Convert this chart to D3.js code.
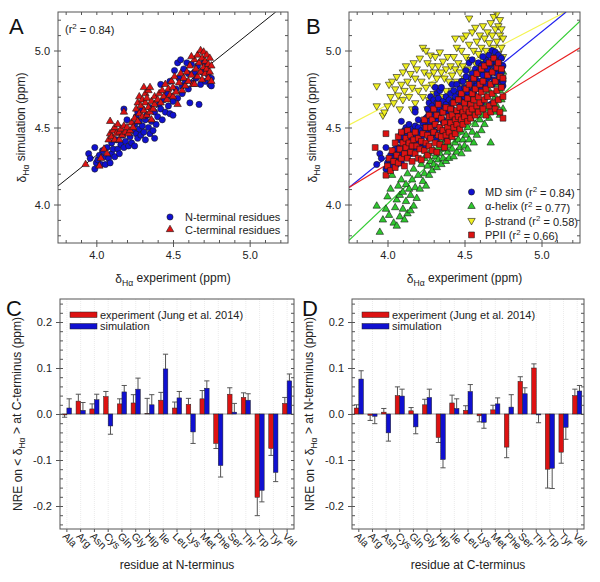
<!DOCTYPE html>
<html><head><meta charset="utf-8">
<script src="https://cdn.jsdelivr.net/npm/d3@7/dist/d3.min.js"></script>
<style>body{margin:0;background:#fff}svg{display:block;font-family:"Liberation Sans",Arial,sans-serif}</style>
</head><body><svg id="c" width="600" height="582"></svg>
<script>
// ---------- DATA ----------
const categories = ["Ala","Arg","Asn","Cys","Gln","Gly","Hip","Ile","Leu","Lys","Met","Phe","Ser","Thr","Trp","Tyr","Val"];
const expC    = [-0.002,0.028,0.011,0.038,0.022,0.024,0.001,0.030,0.013,0.021,0.033,-0.064,0.043,0.036,-0.181,-0.075,0.023];
const expCErr = [0.005,0.015,0.011,0.011,0.011,0.018,0.033,0.017,0.013,0.013,0.018,0.011,0.014,0.010,0.040,0.015,0.013];
const simC    = [0.013,0.008,0.031,-0.026,0.048,0.054,0.020,0.098,0.035,-0.039,0.056,-0.112,0.004,0.030,-0.166,-0.127,0.072];
const simCErr = [0.020,0.017,0.012,0.018,0.014,0.024,0.022,0.032,0.014,0.025,0.016,0.025,0.019,0.014,0.025,0.020,0.015];
const expD    = [0.013,-0.003,0.004,0.040,0.007,0.020,-0.051,0.024,0.008,-0.004,0.009,-0.072,0.071,0.100,-0.120,-0.083,0.040];
const expDErr = [0.007,0.011,0.008,0.019,0.007,0.012,0.011,0.017,0.010,0.013,0.010,0.023,0.010,0.009,0.041,0.024,0.014];
const simD    = [0.076,-0.005,-0.041,0.039,-0.028,0.036,-0.099,0.012,0.049,-0.018,0.022,0.015,0.044,-0.002,-0.118,-0.029,0.050];
const simDErr = [0.018,0.016,0.018,0.015,0.015,0.018,0.018,0.021,0.015,0.013,0.013,0.027,0.013,0.017,0.044,0.026,0.012];
const barTicks = [-0.2,-0.1,0.0,0.1,0.2];
const scatterTicks = [4.0,4.5,5.0];

// Panel A: N-terminal residues (blue circles) [experiment, simulation]
const nTerm = [[3.95,4.33],[3.96,4.30],[3.99,4.37],[3.99,4.23],[4.00,4.27],[4.01,4.29],[4.02,4.32],[4.03,4.26],[4.04,4.35],[4.05,4.31],[4.06,4.26],[4.07,4.37],[4.08,4.30],[4.09,4.27],[4.10,4.33],[4.10,4.40],[4.11,4.36],[4.12,4.31],[4.13,4.42],[4.14,4.36],[4.15,4.33],[4.16,4.39],[4.17,4.45],[4.18,4.62],[4.18,4.37],[4.19,4.41],[4.20,4.55],[4.21,4.38],[4.22,4.44],[4.23,4.40],
[4.24,4.48],[4.25,4.38],[4.25,4.52],[4.26,4.46],[4.26,4.57],[4.27,4.43],[4.27,4.60],[4.28,4.49],[4.28,4.54],[4.29,4.45],[4.30,4.51],[4.30,4.62],[4.31,4.47],[4.32,4.55],[4.32,4.42],[4.33,4.58],[4.34,4.50],[4.35,4.63],[4.35,4.46],[4.36,4.54],[4.37,4.48],[4.38,4.60],[4.38,4.43],[4.39,4.52],[4.40,4.57],[4.41,4.65],[4.42,4.62],[4.42,4.78],[4.43,4.55],[4.44,4.68],[4.45,4.60],
[4.46,4.72],[4.47,4.64],[4.48,4.80],[4.48,4.59],[4.49,4.70],[4.50,4.67],[4.50,4.58],[4.51,4.87],[4.52,4.75],[4.53,4.92],[4.53,4.69],[4.54,4.82],[4.55,4.94],[4.56,4.77],[4.56,4.72],[4.57,4.88],[4.58,4.80],[4.59,4.92],[4.60,4.75],[4.60,4.85],[4.61,4.66],[4.62,4.91],[4.63,4.79],[4.64,4.86],[4.65,4.82],[4.66,4.90],[4.67,4.65],[4.68,4.78],[4.69,4.86],[4.70,4.92],[4.71,4.80],[4.72,4.88],[4.73,4.84],[4.74,4.78],[4.75,4.82],[4.75,4.77]];
// Panel A: C-terminal residues (red triangles)
const cTerm = [[3.93,4.26],[4.02,4.25],[4.03,4.30],[4.05,4.36],[4.07,4.33],[4.08,4.42],[4.09,4.54],[4.09,4.46],[4.10,4.44],[4.11,4.48],[4.12,4.42],[4.12,4.50],[4.13,4.46],[4.14,4.52],[4.15,4.47],[4.15,4.42],[4.16,4.49],[4.17,4.45],[4.18,4.51],[4.18,4.60],[4.19,4.47],[4.20,4.50],[4.21,4.46],[4.22,4.48],[4.23,4.53],[4.24,4.50],[4.25,4.56],[4.26,4.62],[4.27,4.54],[4.27,4.66],[4.28,4.59],[4.28,4.70],[4.29,4.64],[4.30,4.57],[4.30,4.68],[4.31,4.76],[4.31,4.61],[4.32,4.72],[4.32,4.66],[4.33,4.58],[4.33,4.69],[4.34,4.63],[4.34,4.74],[4.35,4.76],[4.35,4.60],[4.36,4.67],[4.36,4.55],[4.37,4.62],[4.38,4.70],[4.38,4.65],[4.40,4.68],[4.41,4.72],[4.42,4.66],[4.43,4.74],[4.44,4.70],[4.45,4.78],[4.46,4.68],[4.47,4.75],[4.48,4.71],[4.49,4.80],[4.50,4.76],[4.50,4.70],[4.51,4.83],[4.52,4.73],[4.53,4.65],[4.54,4.79],[4.55,4.85],[4.56,4.74],[4.57,4.82],[4.58,4.77],[4.59,4.86],[4.60,4.80],[4.61,4.90],[4.62,4.84],[4.63,4.78],[4.64,4.94],[4.65,4.88],[4.66,4.97],[4.66,4.83],[4.67,4.92],[4.68,5.00],[4.68,4.86],[4.69,4.95],[4.69,4.81],[4.70,4.99],[4.70,4.89],[4.71,4.93],[4.71,4.85],[4.72,4.97],[4.72,4.88],[4.73,4.91],[4.73,4.82],[4.74,4.95],[4.74,4.86],[4.75,4.90],[4.75,4.80],[4.64,4.78],[4.62,4.96]];
// Panel B: alpha-helix (green)
const helix = [[3.93,3.99],[3.95,3.82],[3.97,3.90],[3.99,3.97],[4.00,4.05],[4.01,3.93],[4.02,4.10],[4.03,4.19],[4.04,3.88],[4.05,3.98],[4.06,4.03],[4.06,3.86],[4.07,4.12],[4.08,3.92],[4.08,4.06],[4.09,4.16],[4.10,3.97],[4.10,4.08],[4.11,3.90],[4.12,4.13],[4.12,4.02],[4.13,3.94],[4.13,4.20],[4.14,4.10],[4.15,3.96],[4.15,4.06],[4.16,4.16],[4.17,3.99],[4.17,4.23],[4.18,4.11],[4.19,4.04],[4.20,4.19],[4.21,4.10],[4.22,4.26],[4.23,4.15],[4.24,4.30],[4.24,4.20],[4.25,4.12],[4.26,4.25],[4.27,4.33],[4.27,4.19],[4.28,4.28],[4.29,4.22],[4.30,4.35],[4.30,4.26],[4.31,4.31],[4.32,4.24],[4.33,4.37],[4.33,4.29],[4.34,4.33],[4.35,4.26],[4.35,4.40],[4.36,4.30],[4.37,4.36],[4.38,4.28],[4.38,4.42],[4.39,4.34],[4.40,4.38],[4.40,4.30],[4.41,4.44],[4.42,4.36],[4.43,4.31],[4.43,4.46],[4.44,4.40],[4.45,4.34],[4.45,4.50],[4.46,4.42],[4.47,4.37],[4.48,4.47],[4.48,4.33],[4.49,4.42],[4.50,4.38],[4.50,4.54],[4.51,4.45],[4.52,4.36],[4.52,4.50],[4.53,4.42],[4.54,4.56],[4.55,4.47],[4.56,4.40],[4.56,4.60],[4.57,4.52],[4.58,4.45],[4.59,4.62],[4.60,4.55],[4.61,4.48],[4.62,4.66],[4.62,4.58],[4.63,4.52],[4.64,4.70],[4.65,4.62],[4.66,4.56],[4.66,4.74],[4.67,4.40],[4.68,4.66],[4.69,4.60],[4.70,4.78],[4.70,4.70],[4.71,4.64],[4.72,4.82],[4.73,4.74],[4.73,4.58],[4.74,4.68],[4.75,4.86],[4.75,4.62]];
// Panel B: beta-strand (yellow)
const strand = [[3.93,4.77],[3.93,4.64],[3.97,4.58],[3.98,4.60],[4.00,4.64],[4.01,4.78],[4.02,4.70],[4.03,4.80],[4.04,4.66],[4.05,4.75],[4.06,4.83],[4.07,4.71],[4.08,4.62],[4.09,4.78],[4.10,4.86],[4.10,4.68],[4.11,4.74],[4.12,4.90],[4.13,4.80],[4.14,4.70],[4.15,4.85],[4.16,4.76],[4.16,4.62],[4.17,4.92],[4.18,4.66],[4.18,4.82],[4.19,4.88],[4.20,4.74],[4.21,4.95],[4.22,4.80],[4.23,4.70],[4.23,5.02],[4.24,4.86],[4.25,5.00],[4.25,4.76],[4.26,4.92],[4.26,4.62],[4.27,4.68],[4.27,4.84],[4.28,4.97],[4.29,4.78],[4.29,4.90],[4.30,4.72],[4.30,4.86],[4.31,4.96],[4.32,4.82],[4.32,4.66],[4.33,4.90],[4.34,4.76],[4.34,4.99],[4.35,4.86],[4.36,4.70],[4.36,4.93],[4.37,4.82],[4.38,4.88],[4.38,4.74],[4.39,4.96],[4.40,4.80],[4.40,4.68],[4.41,4.90],[4.42,4.84],[4.42,4.74],[4.43,4.96],[4.44,4.88],[4.44,5.08],[4.45,4.80],[4.45,5.02],[4.46,4.92],[4.47,4.86],[4.47,4.76],[4.48,5.00],[4.49,4.90],[4.49,5.08],[4.50,4.82],[4.51,4.96],[4.51,5.10],[4.52,4.88],[4.53,5.04],[4.53,4.80],[4.53,5.21],[4.54,4.94],[4.55,5.12],[4.55,4.86],[4.56,5.00],[4.57,4.92],[4.57,5.15],[4.58,4.84],[4.58,5.06],[4.59,4.98],[4.60,5.10],[4.60,4.90],[4.61,5.02],[4.62,4.94],[4.62,5.16],[4.63,4.88],[4.63,5.08],[4.64,5.00],[4.65,5.12],[4.65,4.92],[4.66,5.05],[4.67,5.18],[4.67,4.96],[4.68,5.10],[4.68,4.90],[4.69,5.22],[4.69,5.02],[4.70,5.14],[4.70,4.95],[4.71,5.24],[4.71,5.06],[4.72,5.16],[4.72,4.98],[4.73,5.10],[4.73,5.20],[4.74,5.02],[4.74,5.14],[4.75,5.08],[4.75,4.96]];
// Panel B: PPII (red squares)
const ppii = [[3.92,4.37],[3.99,4.46],[3.99,4.19],[4.00,4.25],[4.01,4.30],[4.02,4.22],[4.03,4.35],[4.04,4.28],[4.05,4.40],[4.05,4.24],[4.06,4.32],[4.07,4.44],[4.07,4.27],[4.08,4.36],[4.09,4.30],[4.09,4.47],[4.10,4.40],[4.11,4.33],[4.11,4.25],[4.12,4.43],[4.12,4.37],[4.13,4.30],[4.13,4.48],[4.14,4.40],[4.15,4.34],[4.15,4.45],[4.16,4.28],[4.16,4.38],[4.17,4.42],[4.18,4.33],[4.18,4.47],[4.19,4.38],[4.20,4.30],[4.20,4.43],[4.21,4.36],[4.22,4.41],[4.22,4.29],
[4.23,4.46],[4.24,4.35],[4.24,4.55],[4.25,4.40],[4.25,4.50],[4.26,4.32],[4.26,4.45],[4.27,4.58],[4.27,4.38],[4.28,4.50],[4.28,4.43],[4.29,4.35],[4.29,4.55],[4.30,4.47],[4.30,4.62],[4.31,4.40],[4.31,4.52],[4.32,4.34],[4.32,4.58],[4.33,4.45],[4.33,4.65],[4.34,4.50],[4.34,4.39],[4.35,4.56],[4.35,4.44],[4.36,4.60],[4.36,4.48],[4.37,4.37],[4.37,4.53],[4.38,4.45],[4.38,4.63],[4.39,4.50],[4.39,4.41],[4.40,4.57],[4.40,4.47],[4.41,4.62],[4.41,4.53],[4.42,4.44],[4.42,4.58],[4.43,4.50],[4.43,4.66],[4.44,4.55],[4.44,4.46],[4.45,4.61],[4.45,4.52],
[4.46,4.68],[4.46,4.57],[4.47,4.49],[4.47,4.63],[4.48,4.55],[4.48,4.72],[4.49,4.60],[4.49,4.52],[4.50,4.66],[4.50,4.57],[4.51,4.75],[4.51,4.62],[4.52,4.54],[4.52,4.69],[4.53,4.60],[4.53,4.78],[4.54,4.65],[4.54,4.56],[4.55,4.72],[4.55,4.62],[4.56,4.82],[4.56,4.68],[4.57,4.58],[4.57,4.75],[4.58,4.64],[4.58,4.85],[4.59,4.70],[4.59,4.60],[4.60,4.78],[4.60,4.66],[4.61,4.88],[4.61,4.73],[4.62,4.62],[4.62,4.80],[4.63,4.68],[4.63,4.90],[4.64,4.75],[4.64,4.58],[4.65,4.84],[4.65,4.70],[4.66,4.64],[4.66,4.92],[4.67,4.78],[4.67,4.60],[4.68,4.86],[4.68,4.72],[4.69,4.66],[4.69,4.95],[4.70,4.80],[4.70,4.62],[4.71,4.89],[4.71,4.74],[4.72,4.68],[4.72,4.92],[4.73,4.83],[4.73,4.60],[4.74,4.76],[4.74,4.88],[4.75,4.70],[4.75,4.56],[4.75,4.82]];
// Regression lines [x0,y0,x1,y1]
const lineA = [3.75,4.12,5.17,5.25];
const linesB = [
  {name:"strand", c:"#f4f450", pts:[3.75,4.517,5.155,5.25]},
  {name:"md",     c:"#2020ee", pts:[3.75,4.11,5.16,5.25]},
  {name:"helix",  c:"#33cc33", pts:[3.75,3.767,5.25,5.19]},
  {name:"ppii",   c:"#e82020", pts:[3.75,4.11,5.25,5.017]}
];

// ---------- DRAWING ----------
const svg = d3.select("#c");
const FONT = 11;
const BLUE="#1010d0", RED="#dd1212", GREEN="#2ec82e", YELLOW="#f0f020";
const FRAME="#555";
const SIZE = {circle:30, triangle:24, square:34};

function rich(sel, parts){
  parts.forEach(p=>{
    const t = sel.append("tspan").text(p.t);
    if(p.sub){ t.attr("font-size","0.72em").attr("dy", "0.3em"); }
    if(p.sup){ t.attr("font-size","0.72em").attr("dy", "-0.45em"); }
    if(p.back){ t.attr("dy", p.back); }
  });
  return sel;
}
const deltaSub = (rest)=>[{t:"δ"},{t:"Hα",sub:true},{t:rest,back:"-0.3em"}];

function scatterFrame(box){
  const x = d3.scaleLinear().domain([3.75,5.25]).range([box.x0,box.x1]);
  const y = d3.scaleLinear().domain([3.75,5.25]).range([box.y1,box.y0]);
  const g = svg.append("g");
  g.append("rect").attr("x",box.x0).attr("y",box.y0).attr("width",box.x1-box.x0).attr("height",box.y1-box.y0).attr("fill","#fff");
  return {x,y,g};
}
function scatterAxes(box,x,y,g){
  const minor = d3.range(38,53).map(d=>d/10);
  const mk = (ax)=>ax.tickValues(minor).tickSize(-3).tickFormat("");
  g.append("g").attr("transform",`translate(0,${box.y1})`).call(mk(d3.axisBottom(x)));
  g.append("g").attr("transform",`translate(0,${box.y0})`).call(mk(d3.axisTop(x)));
  g.append("g").attr("transform",`translate(${box.x0},0)`).call(mk(d3.axisLeft(y)));
  g.append("g").attr("transform",`translate(${box.x1},0)`).call(mk(d3.axisRight(y)));
  const bx = g.append("g").attr("transform",`translate(0,${box.y1})`).call(d3.axisBottom(x).tickValues(scatterTicks).tickSize(4).tickPadding(4).tickFormat(d3.format(".1f")));
  const by = g.append("g").attr("transform",`translate(${box.x0},0)`).call(d3.axisLeft(y).tickValues(scatterTicks).tickSize(4).tickPadding(4).tickFormat(d3.format(".1f")));
  [bx,by].forEach(a=>{a.selectAll("text").attr("font-size",FONT).attr("fill","#222").attr("font-family","Liberation Sans, Arial");});
  g.selectAll(".domain").remove();
  g.selectAll(".tick line").attr("stroke",FRAME);
  g.append("rect").attr("x",box.x0).attr("y",box.y0).attr("width",box.x1-box.x0).attr("height",box.y1-box.y0).attr("fill","none").attr("stroke",FRAME).attr("stroke-width",1);
  const cx=(box.x0+box.x1)/2, cy=(box.y0+box.y1)/2;
  rich(g.append("text").attr("x",cx).attr("y",box.y1+40).attr("text-anchor","middle").attr("font-size",12).attr("fill","#222"), deltaSub(" experiment (ppm)"));
  rich(g.append("text").attr("transform",`translate(${box.x0-32},${cy}) rotate(-90)`).attr("text-anchor","middle").attr("font-size",12).attr("fill","#222"), deltaSub(" simulation (ppm)"));
}
const sym = (type,size)=>d3.symbol().type(type).size(size)();
function symSize(type){ return type===d3.symbolCircle?SIZE.circle:type===d3.symbolSquare?SIZE.square:SIZE.triangle; }
function points(g,x,y,data,type,fill,rot){
  g.append("g").selectAll("path").data(data).join("path")
    .attr("d",sym(type,symSize(type)))
    .attr("transform",d=>`translate(${x(d[0])},${y(d[1])})${rot?" rotate(180)":""}`)
    .attr("fill",fill).attr("stroke","#1a1a1a").attr("stroke-width",0.6);
}

// Panel A
const boxA = {x0:58,x1:288,y0:12,y1:243};
{
  const {x,y,g} = scatterFrame(boxA);
  g.append("clipPath").attr("id","clipA").append("rect").attr("x",boxA.x0).attr("y",boxA.y0).attr("width",boxA.x1-boxA.x0).attr("height",boxA.y1-boxA.y0);
  g.append("line").attr("clip-path","url(#clipA)").attr("x1",x(lineA[0])).attr("y1",y(lineA[1])).attr("x2",x(lineA[2])).attr("y2",y(lineA[3])).attr("stroke","#111").attr("stroke-width",1);
  points(g,x,y,nTerm,d3.symbolCircle,BLUE);
  points(g,x,y,cTerm,d3.symbolTriangle,RED);
  scatterAxes(boxA,x,y,g);
  rich(g.append("text").attr("x",65).attr("y",33).attr("font-size",FONT).attr("fill","#222"),[{t:"(r"},{t:"2",sup:true},{t:" = 0.84)",back:"0.45em"}]);
  const leg=[["N-terminal residues",d3.symbolCircle,BLUE],["C-terminal residues",d3.symbolTriangle,RED]];
  leg.forEach((l,i)=>{
    g.append("path").attr("d",sym(l[1],symSize(l[1]))).attr("transform",`translate(170,${217+i*12.5})`).attr("fill",l[2]).attr("stroke","#1a1a1a").attr("stroke-width",0.6);
    g.append("text").attr("x",185).attr("y",221+i*12.5).attr("font-size",FONT).attr("fill","#222").text(l[0]);
  });
}
// Panel B
const boxB = {x0:349,x1:580,y0:12,y1:243};
{
  const {x,y,g} = scatterFrame(boxB);
  g.append("clipPath").attr("id","clipB").append("rect").attr("x",boxB.x0).attr("y",boxB.y0).attr("width",boxB.x1-boxB.x0).attr("height",boxB.y1-boxB.y0);
  const pg = g.append("g").attr("clip-path","url(#clipB)");
  linesB.forEach(l=>pg.append("line").attr("x1",x(l.pts[0])).attr("y1",y(l.pts[1])).attr("x2",x(l.pts[2])).attr("y2",y(l.pts[3])).attr("stroke",l.c).attr("stroke-width",1.2));
  points(pg,x,y,helix,d3.symbolTriangle,GREEN);
  points(pg,x,y,strand,d3.symbolTriangle,YELLOW,true);
  points(pg,x,y,nTerm.concat(cTerm),d3.symbolCircle,BLUE);
  points(pg,x,y,ppii,d3.symbolSquare,RED);
  scatterAxes(boxB,x,y,g);
  const leg=[["MD sim (r","0.84",d3.symbolCircle,BLUE,false],["α-helix (r","0.77",d3.symbolTriangle,GREEN,false],["β-strand (r","0.58",d3.symbolTriangle,YELLOW,true],["PPII (r","0.66",d3.symbolSquare,RED,false]];
  leg.forEach((l,i)=>{
    const yy = 192+i*14.3;
    g.append("path").attr("d",sym(l[2],symSize(l[2]))).attr("transform",`translate(471.5,${yy})${l[4]?" rotate(180)":""}`).attr("fill",l[3]).attr("stroke","#1a1a1a").attr("stroke-width",0.6);
    rich(g.append("text").attr("x",485).attr("y",yy+4).attr("font-size",FONT).attr("fill","#222"),[{t:l[0]},{t:"2",sup:true},{t:" = "+l[1]+")",back:"0.45em"}]);
  });
}

// Bar panels
function barPanel(box, exp, expErr, sim, simErr, xTitle, yTitleEnd){
  const g = svg.append("g");
  const x = d3.scaleBand().domain(categories).range([box.x0,box.x1]);
  const y = d3.scaleLinear().domain([-0.25,0.25]).range([box.y1,box.y0]);
  const bw = 4.6;
  g.append("rect").attr("x",box.x0).attr("y",box.y0).attr("width",box.x1-box.x0).attr("height",box.y1-box.y0).attr("fill","#fff");
  g.append("g").selectAll("line").data(categories).join("line")
    .attr("x1",d=>x(d)+x.bandwidth()/2).attr("x2",d=>x(d)+x.bandwidth()/2)
    .attr("y1",box.y0).attr("y2",box.y1).attr("stroke","#e6e6e6").attr("stroke-width",0.8).attr("stroke-dasharray","1,1");
  g.append("line").attr("x1",box.x0).attr("x2",box.x1).attr("y1",y(0)).attr("y2",y(0)).attr("stroke","#999").attr("stroke-width",1);
  const series = [{v:exp,e:expErr,c:RED,off:-bw},{v:sim,e:simErr,c:BLUE,off:0}];
  series.forEach(s=>{
    const cx = (i)=>x(categories[i])+x.bandwidth()/2+s.off;
    const eg = g.append("g").attr("stroke","#555").attr("stroke-width",1);
    s.v.forEach((v,i)=>{
      const sgn = v<0?-1:1;
      const tip = v+sgn*s.e[i];
      const xc = cx(i)+bw/2;
      eg.append("line").attr("x1",xc).attr("x2",xc).attr("y1",y(v)).attr("y2",y(tip));
      eg.append("line").attr("x1",xc-2.6).attr("x2",xc+2.6).attr("y1",y(tip)).attr("y2",y(tip));
    });
    g.append("g").selectAll("rect").data(s.v).join("rect")
      .attr("x",(d,i)=>cx(i)).attr("width",bw)
      .attr("y",d=>y(Math.max(0,d))).attr("height",d=>Math.abs(y(d)-y(0)))
      .attr("fill",s.c).attr("stroke","#222").attr("stroke-width",0.5);
  });
  const minor = d3.range(-12,13).map(d=>d*0.02);
  g.append("g").attr("transform",`translate(${box.x0},0)`).call(d3.axisLeft(y).tickValues(minor).tickSize(-3).tickFormat(""));
  g.append("g").attr("transform",`translate(${box.x1},0)`).call(d3.axisRight(y).tickValues(minor).tickSize(-3).tickFormat(""));
  const ay = g.append("g").attr("transform",`translate(${box.x0},0)`).call(d3.axisLeft(y).tickValues(barTicks).tickSize(4).tickPadding(4).tickFormat(d=>d3.format(".1f")(d).replace("−","-")));
  g.append("g").attr("transform",`translate(0,${box.y1})`).call(d3.axisBottom(x).tickSize(3).tickFormat(""));
  ay.selectAll("text").attr("font-size",FONT).attr("fill","#222").attr("font-family","Liberation Sans, Arial");
  g.selectAll(".domain").remove();
  g.selectAll(".tick line").attr("stroke",FRAME);
  g.append("rect").attr("x",box.x0).attr("y",box.y0).attr("width",box.x1-box.x0).attr("height",box.y1-box.y0).attr("fill","none").attr("stroke",FRAME);
  g.append("g").selectAll("text").data(categories).join("text")
    .attr("transform",d=>`translate(${x(d)+x.bandwidth()/2-5},${box.y1+8}) rotate(45)`)
    .attr("font-size",10.5).attr("fill","#222").text(d=>d);
  g.append("text").attr("x",(box.x0+box.x1)/2).attr("y",box.y1+40).attr("text-anchor","middle").attr("font-size",12).attr("fill","#222").text(xTitle);
  rich(g.append("text").attr("transform",`translate(${box.x0-38},${(box.y0+box.y1)/2}) rotate(-90)`).attr("text-anchor","middle").attr("font-size",12).attr("fill","#222"),
    [{t:"NRE on < δ"},{t:"Hα",sub:true},{t:" > "+yTitleEnd,back:"-0.3em"}]);
  [["experiment (Jung et al. 2014)",RED],["simulation",BLUE]].forEach((l,i)=>{
    g.append("rect").attr("x",box.x0+10).attr("y",box.y0+13+i*11.5).attr("width",27).attr("height",5.5).attr("fill",l[1]).attr("stroke","#222").attr("stroke-width",0.5);
    g.append("text").attr("x",box.x0+40).attr("y",box.y0+19.5+i*11.5).attr("font-size",FONT).attr("fill","#222").text(l[0]);
  });
}
barPanel({x0:60,x1:294,y0:299,y1:529}, expC, expCErr, simC, simCErr, "residue at N-terminus", "at C-terminus (ppm)");
barPanel({x0:352,x1:584,y0:299,y1:529}, expD, expDErr, simD, simDErr, "residue at C-terminus", "at N-terminus (ppm)");

[["A",9,34],["B",306,34],["C",6,316],["D",302,316]].forEach(p=>
  svg.append("text").attr("x",p[1]).attr("y",p[2]).attr("font-size",22).attr("fill","#111").text(p[0]));
</script></body></html>
